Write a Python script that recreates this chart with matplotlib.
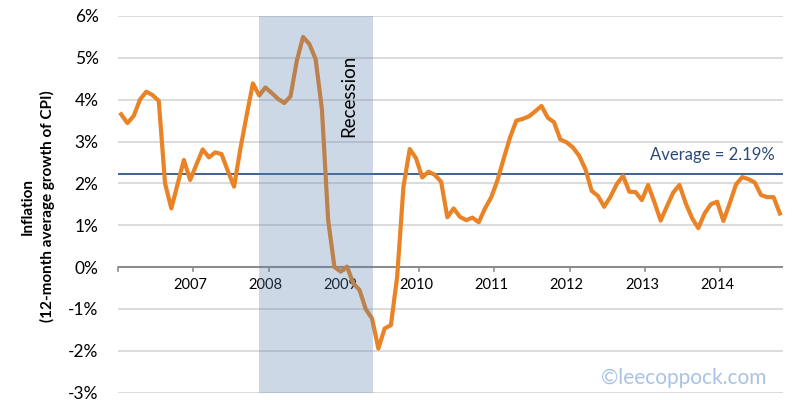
import numpy as np
import matplotlib
matplotlib.use("Agg")
import matplotlib.pyplot as plt

# Monthly inflation (12-month average growth of CPI, %), Jan 2006 - Oct 2014
inflation = [
    3.65, 3.44, 3.61, 4.00, 4.19, 4.11, 3.97, 2.00, 1.40, 1.98, 2.56, 2.08,   # 2006
    2.45, 2.81, 2.62, 2.74, 2.70, 2.30, 1.92, 2.82, 3.62, 4.39, 4.10, 4.29,   # 2007
    4.16, 4.02, 3.92, 4.08, 4.93, 5.50, 5.33, 4.97, 3.78, 1.12, 0.00, -0.11,  # 2008
    0.01, -0.39, -0.55, -1.01, -1.23, -1.95, -1.47, -1.39, -0.23, 1.92, 2.82, 2.60,  # 2009
    2.14, 2.28, 2.20, 2.04, 1.19, 1.40, 1.20, 1.12, 1.18, 1.07, 1.40, 1.67,   # 2010
    2.08, 2.60, 3.10, 3.50, 3.54, 3.60, 3.72, 3.85, 3.57, 3.46, 3.05, 2.98,   # 2011
    2.86, 2.66, 2.34, 1.82, 1.70, 1.44, 1.68, 1.98, 2.18, 1.80, 1.79, 1.60,   # 2012
    1.96, 1.55, 1.11, 1.45, 1.78, 1.96, 1.52, 1.17, 0.93, 1.28, 1.50, 1.56,   # 2013
    1.10, 1.52, 1.97, 2.15, 2.10, 2.02, 1.72, 1.67, 1.67, 1.28,               # 2014
]
year_labels = ["2007", "2008", "2009", "2010", "2011", "2012", "2013", "2014"]
year_start_index = [12, 24, 36, 48, 60, 72, 84, 96]
recession_start = 22.5   # month index (category units)
recession_end = 40.6
average_value = 2.23
average_text = "Average = 2.19%"
yticks = [-3, -2, -1, 0, 1, 2, 3, 4, 5, 6]

plt.rcParams['font.family'] = ['Lato', 'DejaVu Sans']

fig = plt.figure(figsize=(8.0, 4.09), dpi=100)
ax = fig.add_axes([0.1475, 0.0403, 0.83125, 0.9206])

n = len(inflation)
x = np.arange(n) + 0.5
ax.set_xlim(0, n)
ax.set_ylim(-3, 6)

# gridlines
for v in yticks:
    if v != 0:
        ax.axhline(v, color='#d9d9d9', lw=1.3, zorder=1)
ax.axhline(0, color='#8c8c8c', lw=1.5, zorder=2)

# year tick marks on zero line
for t in [0] + year_start_index:
    ax.plot([t, t], [0, -0.1], color='#8c8c8c', lw=1.2, zorder=2, clip_on=False)
for t, lab in zip(year_start_index, year_labels):
    ax.text(t - 0.5, -0.42, lab, ha='center', va='center', fontsize=10.5, color='black')

ax.axhline(average_value, color='#2f5688', lw=1.3, zorder=3)
ax.plot(x, inflation, color='#ea8226', lw=3, zorder=4, solid_joinstyle='round')

ax.axvspan(recession_start, recession_end, color=(88/255, 128/255, 172/255), alpha=0.3, lw=0, zorder=5)

ax.text(36.8, 4.09, "Recession", rotation=90, ha='center', va='center', fontsize=13.5, color='black', zorder=6)
ax.text(104.7, 2.68, average_text, ha='right', va='center', fontsize=12, color='#2b4a7a', zorder=6)
ax.text(103.4, -2.66, "\u00a9leecoppock.com", ha='right', va='center', fontsize=15, color='#a9c3e4', zorder=6)

ax.set_xticks([])
ax.set_yticks(yticks)
ax.set_yticklabels([f"{v}%" for v in yticks], fontsize=12.5)
ax.tick_params(axis='y', length=0, pad=14)
for s in ax.spines.values():
    s.set_visible(False)

fig.text(0.035, 0.495, "Inflation", rotation=90, ha='center', va='center', fontsize=11, fontweight='bold')
fig.text(0.059, 0.495, "(12-month average growth of CPI)", rotation=90, ha='center', va='center', fontsize=11, fontweight='bold')

fig.savefig("out.png", dpi=100)
